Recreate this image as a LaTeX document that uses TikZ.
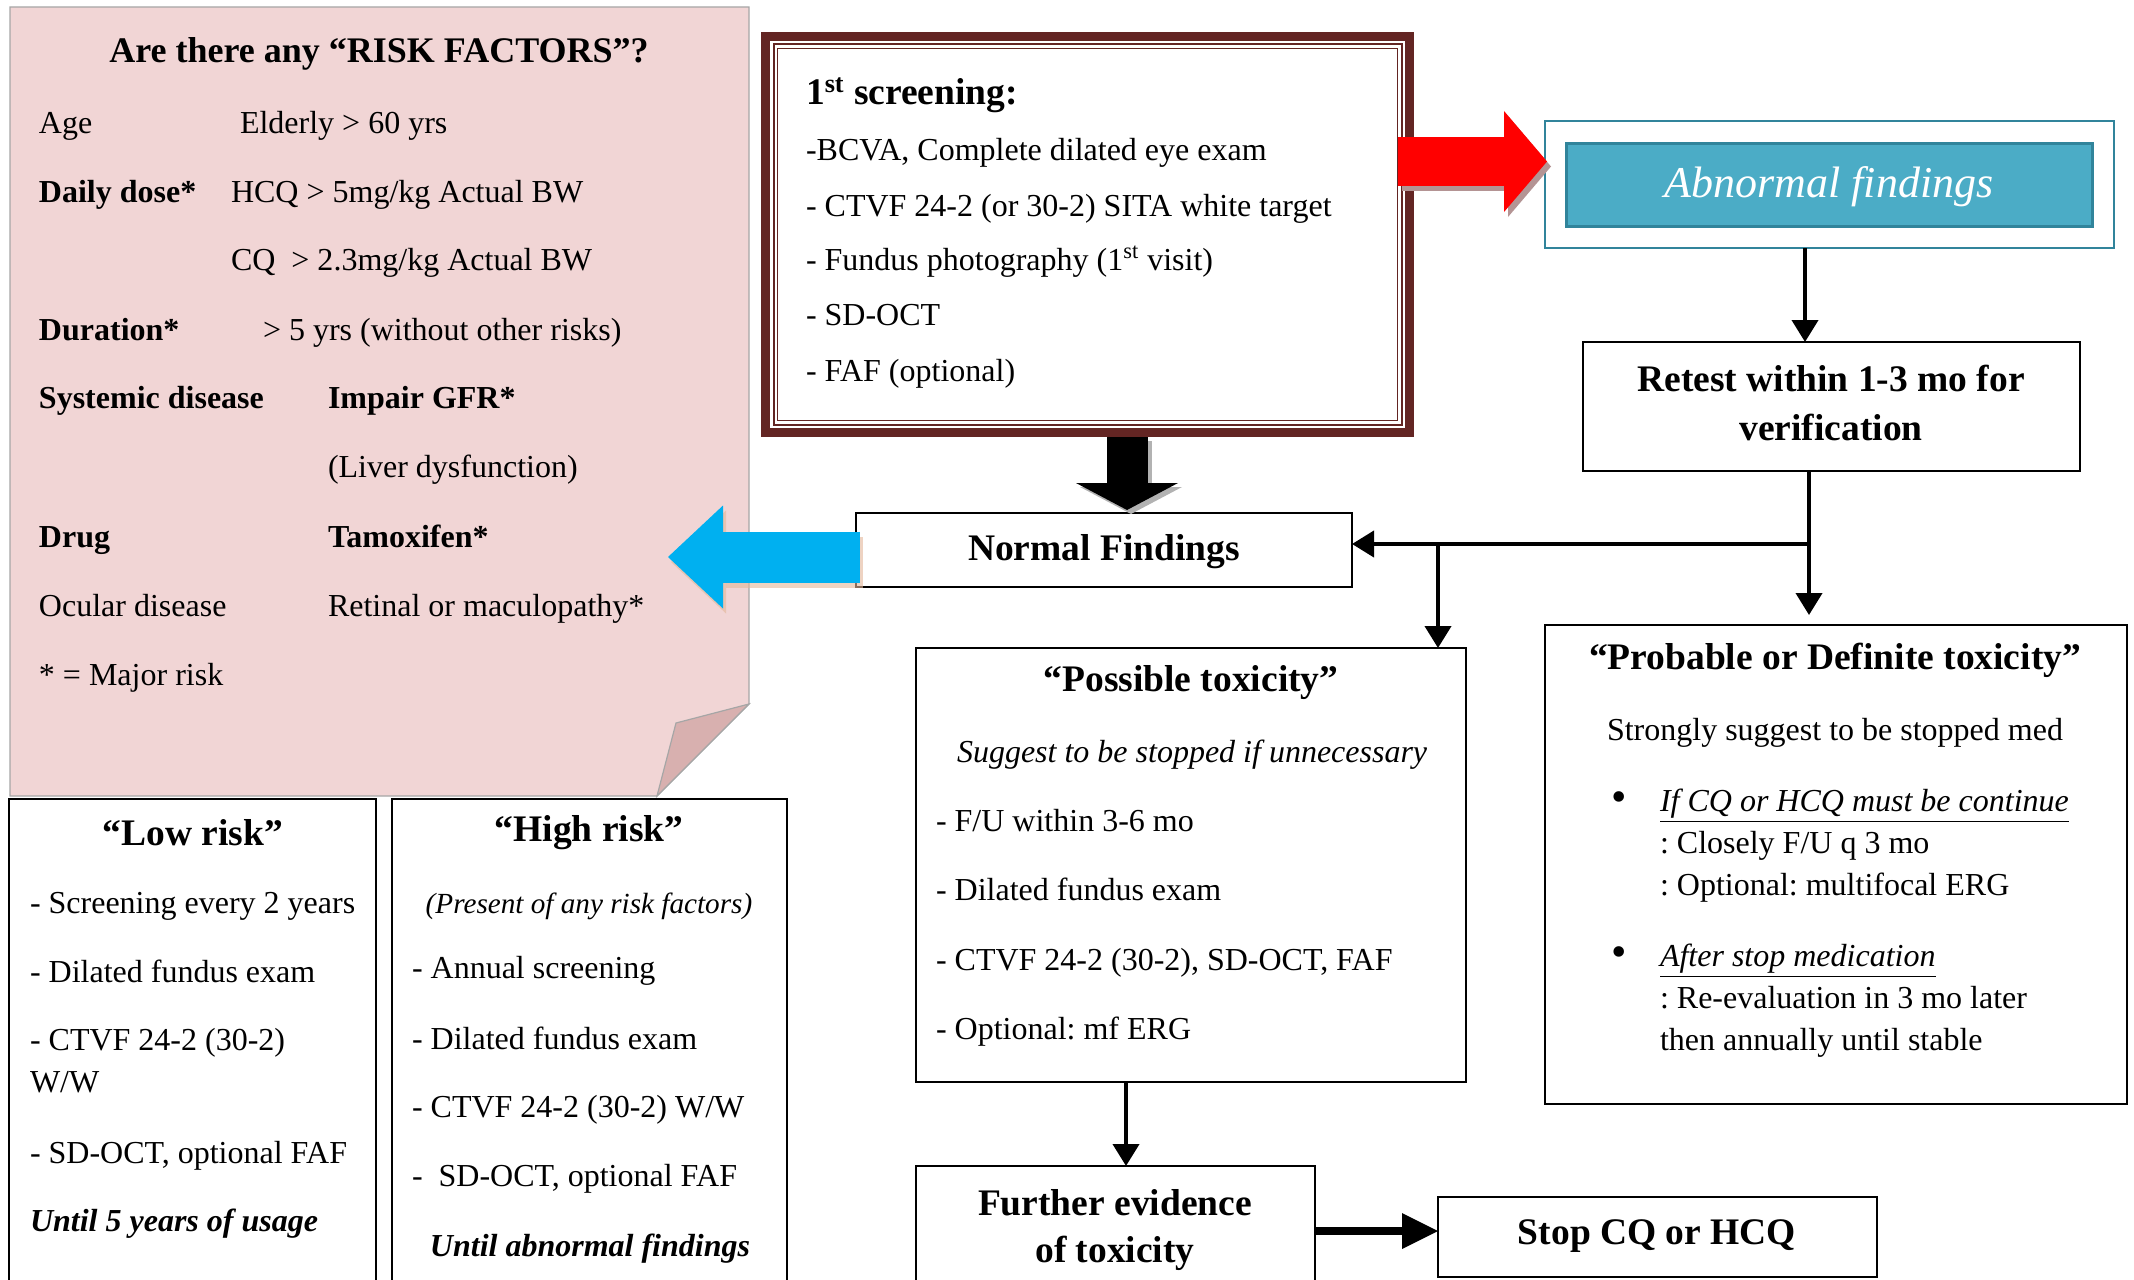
\documentclass[tikz,border=0pt]{standalone}
\usepackage{fontspec}
\setmainfont{Liberation Serif}
\usetikzlibrary{arrows.meta,fit,calc}
\definecolor{brownf}{HTML}{632523}
\definecolor{pinkf}{HTML}{F1D5D5}
\definecolor{foldf}{HTML}{D8B0AF}
\definecolor{noteline}{HTML}{A6A6A6}
\definecolor{tealfill}{HTML}{4BACC6}
\definecolor{tealline}{HTML}{31849B}
\definecolor{bluearr}{HTML}{00B0F0}
\definecolor{redshadow}{HTML}{B49494}
\definecolor{blueshadow}{HTML}{E3B79A}
\frenchspacing
\begin{document}
\begin{tikzpicture}[x=0.5pt,y=-0.5pt,
  txt/.style={anchor=mid west, inner sep=0pt, outer sep=0pt, yshift=-2.5pt, font=\fontsize{16}{19}\selectfont},
  txtb/.style={txt, font=\fontsize{16}{19}\selectfont\bfseries},
  txti/.style={txt, font=\fontsize{16}{19}\selectfont\itshape},
  txtbi/.style={txt, font=\fontsize{16}{19}\selectfont\bfseries\itshape},
  hd/.style={anchor=center, inner sep=0pt, outer sep=0pt, yshift=-1.5pt, align=center, font=\fontsize{18.75}{24.5}\selectfont\bfseries},
  box/.style={draw=black, line width=1.2pt, inner sep=0pt, outer sep=0pt, fill=white},
  conn/.style={line width=2pt, -{Triangle[length=11pt,width=13pt]}},
  bul/.style={txt, font=\fontsize{22}{22}\selectfont},
]
\useasboundingbox (0,0) rectangle (2134,1279);
\clip (0,0) rectangle (2134,1279);

% ---------- risk factor note ----------
\draw[noteline, line width=0.6pt, fill=pinkf] (10,7) -- (749,7) -- (749,704) -- (657,796) -- (10,796) -- cycle;
\draw[noteline, line width=0.6pt, fill=foldf] (749,704) -- (676,723) -- (657,796) -- cycle;

\node[anchor=center, inner sep=0pt, yshift=-2pt, font=\fontsize{18}{22}\selectfont\bfseries] (rtitle) at (379,50) {Are there any “RISK FACTORS”?};
\node[txt]  (rage)  at (39,124)  {Age};
\node[txt]  (rageb) at (240,124) {Elderly > 60 yrs};
\node[txtb] (rdose) at (39,193)  {Daily dose*};
\node[txt]  (rhcq)  at (231,193) {HCQ > 5mg/kg Actual BW};
\node[txt]  (rcq)   at (231,261) {CQ\ \ > 2.3mg/kg Actual BW};
\node[txtb] (rdur)  at (39,331)  {Duration*};
\node[txt]  (rdurb) at (263,331) {> 5 yrs (without other risks)};
\node[txtb] (rsys)  at (39,399)  {Systemic disease};
\node[txtb] (rgfr)  at (328,399) {Impair GFR*};
\node[txt]  (rliv)  at (328,468) {(Liver dysfunction)};
\node[txtb] (rdrug) at (39,538)  {Drug};
\node[txtb] (rtam)  at (328,538) {Tamoxifen*};
\node[txt]  (rocu)  at (39,607)  {Ocular disease};
\node[txt]  (rret)  at (328,607) {Retinal or maculopathy*};
\node[txt]  (rmaj)  at (39,676)  {* = Major risk};

% ---------- low / high risk ----------
\node[box, fit={(9,799) (376,1300)}] (low) {};
\node[hd] (lowt) at (193,830) {“Low risk”};
\node[txt] (low1) at (30,904)  {- Screening every 2 years};
\node[txt] (low2) at (30,973)  {- Dilated fundus exam};
\node[txt] (low3) at (30,1041) {- CTVF 24-2 (30-2)};
\node[txt] (low4) at (30,1083) {W/W};
\node[txt] (low5) at (30,1154) {- SD-OCT, optional FAF};
\node[txtbi] (low6) at (30,1222) {Until 5 years of usage};

\node[box, fit={(392,799) (787,1300)}] (high) {};
\node[hd] (hight) at (589,830) {“High risk”};
\node[txti, anchor=mid, font=\fontsize{14.6}{18}\selectfont\itshape] (high0) at (589,904) {(Present of any risk factors)};
\node[txt] (high1) at (412,969)  {- Annual screening};
\node[txt] (high2) at (412,1040) {- Dilated fundus exam};
\node[txt] (high3) at (412,1108) {- CTVF 24-2 (30-2) W/W};
\node[txt] (high4) at (412,1177) {-\ \ SD-OCT, optional FAF};
\node[txtbi, anchor=mid] (high5) at (590,1247) {Until abnormal findings};

% ---------- first screening ----------
\node[fit={(761,32) (1414,437)}, inner sep=0pt, outer sep=0pt, fill=brownf] (screen) {};
\fill[white] ($(screen.north west)+(9,9)$) rectangle ($(screen.south east)+(-9,-9)$);
\draw[brownf, line width=1pt] ($(screen.north west)+(12.5,12.5)$) rectangle ($(screen.south east)+(-12.5,-12.5)$);
\draw[brownf, line width=0.6pt] ($(screen.north west)+(16.5,16.5)$) rectangle ($(screen.south east)+(-16.5,-16.5)$);
\node[hd, anchor=mid west, yshift=-3.5pt] (scrt) at (806,90) {1\textsuperscript{st} screening:};
\node[txt] (scr1) at (806,151) {-BCVA, Complete dilated eye exam};
\node[txt] (scr2) at (806,207) {- CTVF 24-2 (or 30-2) SITA white target};
\node[txt] (scr3) at (806,261) {- Fundus photography (1\textsuperscript{st} visit)};
\node[txt] (scr4) at (806,316) {- SD-OCT};
\node[txt] (scr5) at (806,372) {- FAF (optional)};

% ---------- abnormal findings ----------
\node[draw=tealline, line width=1pt, fill=white, inner sep=0pt, outer sep=0pt, fit={(1545,121) (2114,248)}] (abnout) {};
\node[draw=tealline, line width=1.5pt, fill=tealfill, inner sep=0pt, outer sep=0pt, fit={(1566,143) (2092,226)}] (abn) {};
\node[inner sep=0pt, text=white, yshift=-1pt, font=\fontsize{22}{26}\selectfont\itshape] (abnt) at (abn.center) {Abnormal findings};

% ---------- retest ----------
\node[box, fit={(1583,342) (2080,471)}] (retest) {};
\node[hd] (retestt) at (1831,400) {Retest within 1-3 mo for\\verification};

% ---------- normal findings ----------
\node[box, fit={(856,513) (1352,587)}] (normal) {};
\node[hd] (normalt) at (1104,549) {Normal Findings};

% ---------- possible toxicity ----------
\node[box, fit={(916,648) (1466,1082)}] (poss) {};
\node[hd] (posst) at (1191,680) {“Possible toxicity”};
\node[txti] (poss0) at (957,753)  {Suggest to be stopped if unnecessary};
\node[txt]  (poss1) at (936,822)  {- F/U within 3-6 mo};
\node[txt]  (poss2) at (936,891)  {- Dilated fundus exam};
\node[txt]  (poss3) at (936,961)  {- CTVF 24-2 (30-2), SD-OCT, FAF};
\node[txt]  (poss4) at (936,1030) {- Optional: mf ERG};

% ---------- probable / definite toxicity ----------
\node[box, fit={(1545,625) (2127,1104)}] (prob) {};
\node[hd] (probt) at (1835,657) {“Probable or Definite toxicity”};
\node[txt] (prob0) at (1607,731)  {Strongly suggest to be stopped med};
\node[bul] (bul1)  at (1611,802)  {•};
\node[txti] (prob1) at (1660,802) {\underline{If CQ or HCQ must be continue}};
\node[txt] (prob2) at (1660,844)  {: Closely F/U q 3 mo};
\node[txt] (prob3) at (1660,886)  {: Optional: multifocal ERG};
\node[bul] (bul2)  at (1611,957)  {•};
\node[txti] (prob4) at (1660,957) {\underline{After stop medication}};
\node[txt] (prob5) at (1660,999)  {: Re-evaluation in 3 mo later};
\node[txt] (prob6) at (1660,1041) {then annually until stable};

% ---------- further evidence / stop ----------
\node[box, fit={(916,1166) (1315,1300)}] (further) {};
\node[hd, font=\fontsize{18.75}{23.5}\selectfont\bfseries] (furthert) at (1115,1227) {Further evidence\\of toxicity};
\node[box, fit={(1438,1197) (1877,1277)}] (stop) {};
\node[hd] (stopt) at (1657,1233) {Stop CQ or HCQ};

% ---------- block arrows ----------
% black: screening -> normal findings
\coordinate (ax) at (1127,0);
\coordinate (bs) at (screen.south -| ax);
\coordinate (be) at ($(normal.north -| ax)+(0,-3)$);
\draw[black!30, line width=20.5pt, -{Triangle[length=13.5pt,width=51pt,line width=0pt]}] ($(bs)+(4,4)$) -- ($(be)+(4,4)$);
\draw[black, line width=20.5pt, -{Triangle[length=13.5pt,width=51pt,line width=0pt]}] (bs) -- (be);

% red: screening -> abnormal findings
\coordinate (ry) at (0,161.5);
\coordinate (rs) at ($(screen.east |- ry)+(-16,0)$);
\coordinate (re) at ($(abnout.west |- ry)+(2,0)$);
\draw[redshadow, line width=24.5pt, -{Triangle[length=21.5pt,width=50.5pt,line width=0pt]}] ($(rs)+(4,5)$) -- ($(re)+(4,5)$);
\draw[red, line width=24.5pt, -{Triangle[length=21.5pt,width=50.5pt,line width=0pt]}] (rs) -- (re);

% blue: normal findings -> risk factors
\coordinate (btip) at (668,557);
\coordinate (bst) at ($(normal.west |- btip)+(4,0)$);
\draw[blueshadow, opacity=0.6, line width=25.5pt, -{Triangle[length=27.5pt,width=51.5pt,line width=0pt]}] ($(bst)+(3,5)$) -- ($(btip)+(3,5)$);
\draw[bluearr, line width=25.5pt, -{Triangle[length=27.5pt,width=51.5pt,line width=0pt]}] (bst) -- (btip);

% ---------- thin connectors ----------
\coordinate (c1) at (1805,0);
\draw[conn] (abnout.south -| c1) -- (retest.north -| c1);
\coordinate (j) at (1809,544);
\draw[conn] (retest.south -| j) -- ($(prob.north -| j)+(0,-10)$);
\draw[conn] (j) -- (normal.east |- j);
\coordinate (k) at (1438,544);
\draw[conn] (k) -- (poss.north -| k);
\coordinate (c2) at (1126,0);
\draw[conn] (poss.south -| c2) -- (further.north -| c2);
\coordinate (sy) at (0,1231);
\draw[line width=4pt, -{Triangle[length=18pt,width=18pt,line width=0pt]}] (further.east |- sy) -- (stop.west |- sy);
\end{tikzpicture}
\end{document}
